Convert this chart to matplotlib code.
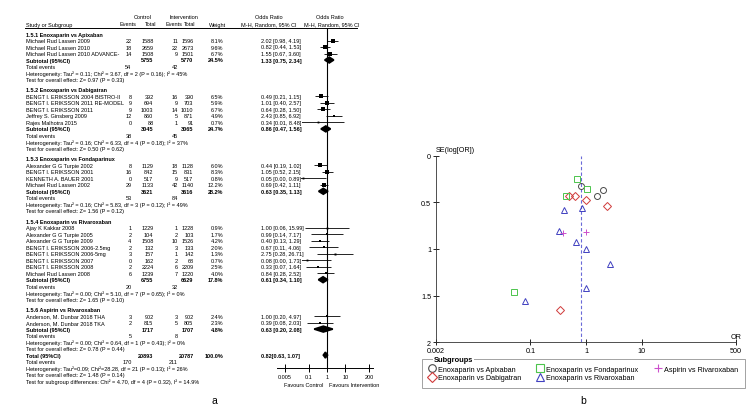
import matplotlib.pyplot as plt
from matplotlib.lines import Line2D

plt.rcParams['font.family'] = ['Liberation Sans', 'DejaVu Sans']

# ---- panel a: forest plot data ----
groups = ["1.5.1 Enoxaparin vs Apixaban", "1.5.2 Enoxaparin vs Dabigatran",
          "1.5.3 Enoxaparin vs Fondaparinux", "1.5.4 Enoxaparin vs Rivaroxaban",
          "1.5.6 Aspirin vs Rivaroxaban"]
group_of = [0, 0, 0, 1, 1, 1, 1, 1, 2, 2, 2, 2, 3, 3, 3, 3, 3, 3, 3, 3, 4, 4]
studies = ["Michael Rud Lassen 2009", "Michael Rud Lassen 2010", "Michael Rud Lassen 2010 ADVANCE-",
           "BENGT I. ERIKSSON 2004 BISTRO-II", "BENGT I. ERIKSSON 2011 RE-MODEL", "BENGT I. ERIKSSON 2011",
           "Jeffrey S. Ginsberg 2009", "Rajes Malhotra 2015",
           "Alexander G G Turpie 2002", "BENGT I. ERIKSSON 2001", "KENNETH A. BAUER 2001",
           "Michael Rud Lassen 2002",
           "Ajay K Kakkar 2008", "Alexander G G Turpie 2005", "Alexander G G Turpie 2009",
           "BENGT I. ERIKSSON 2006-2.5mg", "BENGT I. ERIKSSON 2006-5mg", "BENGT I. ERIKSSON 2007",
           "BENGT I. ERIKSSON 2008", "Michael Rud Lassen 2008",
           "Anderson, M. Dunbar 2018 THA", "Anderson, M. Dunbar 2018 TKA"]
ctrl_events = [22, 18, 14, 8, 9, 9, 12, 0, 8, 16, 0, 29, 1, 2, 4, 2, 3, 0, 2, 6, 3, 2]
ctrl_total = [1588, 2659, 1508, 392, 694, 1003, 860, 88, 1129, 842, 517, 1133,
              1229, 104, 1508, 132, 157, 162, 2224, 1239, 902, 815]
int_events = [11, 22, 9, 16, 9, 14, 5, 1, 18, 15, 9, 42, 1, 2, 10, 3, 1, 2, 6, 7, 3, 5]
int_total = [1596, 2673, 1501, 390, 703, 1010, 871, 91, 1128, 831, 517, 1140,
             1228, 103, 1526, 133, 142, 68, 2209, 1220, 902, 805]
weight = [8.1, 9.6, 6.7, 6.5, 5.9, 6.7, 4.9, 0.7, 6.0, 8.3, 0.8, 12.2,
          0.9, 1.7, 4.2, 2.0, 1.3, 0.7, 2.5, 4.0, 2.4, 2.3]
odds = [2.02, 0.82, 1.55, 0.49, 1.01, 0.64, 2.43, 0.34, 0.44, 1.05, 0.05, 0.69,
        1.00, 0.99, 0.40, 0.67, 2.75, 0.08, 0.33, 0.84, 1.00, 0.39]
ci_low = [0.98, 0.44, 0.67, 0.21, 0.40, 0.28, 0.85, 0.01, 0.19, 0.52, 0.00, 0.42,
          0.06, 0.14, 0.13, 0.11, 0.28, 0.00, 0.07, 0.28, 0.20, 0.08]
ci_high = [4.19, 1.53, 3.60, 1.15, 2.57, 1.50, 6.92, 8.48, 1.02, 2.15, 0.89, 1.11,
           15.99, 7.17, 1.29, 4.06, 26.71, 1.73, 1.64, 2.52, 4.97, 2.03]
# SE(log OR) (panel b)
se_log_or = [0.37, 0.32, 0.43, 0.43, 0.48, 0.43, 0.54, 1.65, 0.43, 0.36, 1.46, 0.25,
             1.42, 1.00, 0.58, 0.92, 1.16, 1.56, 0.81, 0.56, 0.82, 0.83]

sub_ctrl_total = [5755, 3045, 3621, 6755, 1717]
sub_int_total = [5770, 3065, 3616, 6629, 1707]
sub_weight = [24.5, 24.7, 28.2, 17.8, 4.8]
sub_or = [1.33, 0.86, 0.63, 0.61, 0.63]
sub_low = [0.75, 0.47, 0.35, 0.34, 0.20]
sub_high = [2.34, 1.56, 1.13, 1.10, 2.08]
sub_ctrl_events = [54, 38, 53, 20, 5]
sub_int_events = [42, 45, 84, 32, 8]
sub_het = ["Heterogeneity: Tau\u00b2 = 0.11; Chi\u00b2 = 3.67, df = 2 (P = 0.16); I\u00b2 = 45%",
           "Heterogeneity: Tau\u00b2 = 0.16; Chi\u00b2 = 6.33, df = 4 (P = 0.18); I\u00b2 = 37%",
           "Heterogeneity: Tau\u00b2 = 0.16; Chi\u00b2 = 5.83, df = 3 (P = 0.12); I\u00b2 = 49%",
           "Heterogeneity: Tau\u00b2 = 0.00; Chi\u00b2 = 5.10, df = 7 (P = 0.65); I\u00b2 = 0%",
           "Heterogeneity: Tau\u00b2 = 0.00; Chi\u00b2 = 0.64, df = 1 (P = 0.43); I\u00b2 = 0%"]
sub_test = ["Test for overall effect: Z= 0.97 (P = 0.33)", "Test for overall effect: Z= 0.50 (P = 0.62)",
            "Test for overall effect: Z= 1.56 (P = 0.12)", "Test for overall effect: Z= 1.65 (P = 0.10)",
            "Test for overall effect: Z= 0.78 (P = 0.44)"]

total_ctrl, total_int = 20893, 20787
total_or, total_low, total_high = 0.82, 0.63, 1.07
total_ctrl_events, total_int_events = 170, 211
total_het = "Heterogeneity: Tau\u00b2=0.09; Chi\u00b2=28.28, df = 21 (P = 0.13); I\u00b2 = 26%"
total_test = "Test for overall effect: Z= 1.48 (P = 0.14)"
subgroup_test = "Test for subgroup differences: Chi\u00b2 = 4.70, df = 4 (P = 0.32), I\u00b2 = 14.9%"
forest_ticks = [0.005, 0.1, 1, 10, 200]

# ---- panel b: funnel plot ----
legend_names = ["Enoxaparin vs Apixaban", "Enoxaparin vs Dabigatran", "Enoxaparin vs Fondaparinux",
                "Enoxaparin vs Rivaroxaban", "Aspirin vs Rivaroxaban"]
group_markers = ['o', 'D', 's', '^', '+']
group_colors = ['#4a4a4a', '#d03a3a', '#4cc44c', '#4040c0', '#cc50cc']
funnel_xticks = [0.002, 0.1, 1, 10, 500]
funnel_yticks = [0, 0.5, 1, 1.5, 2]

FS = 4.0
W, H = 750, 414
Y0, STEP = 35, 6.5  # pixel of first line, pixels per line


def px_to_u(y):
    return (y - Y0) / STEP


def layout_rows():
    heading_u, study_u, sub_u = [], [0] * len(studies), []
    u = 0.0
    for g in range(len(groups)):
        if g > 0:
            u += 0.6
        heading_u.append(u)
        u += 1
        for i in range(len(studies)):
            if group_of[i] == g:
                study_u[i] = u
                u += 1
        sub_u.append(u)
        u += 4
    return heading_u, study_u, sub_u, u


heading_u, study_u, sub_u, total_u = layout_rows()

fig = plt.figure(figsize=(7.5, 4.14), dpi=100)

# table text layer in pixel x / line-unit y (kept above the forest graph)
axt = fig.add_axes([0, 0, 1, 1])
axt.set_xlim(0, W)
axt.set_ylim(px_to_u(H), px_to_u(0))
axt.set_facecolor('none')
axt.axis('off')
axt.set_zorder(2)

c_name, c_ce, c_ct, c_ie, c_it, c_w, c_or = 26, 131.5, 153.5, 178, 193.5, 223.5, 261


def row_text(u, vals, bold=False, mask=False):
    fw = 'bold' if bold else 'normal'
    for x, s, ha in zip([c_ce, c_ct, c_ie, c_it, c_w, c_or], vals, ['right'] * 5 + ['left']):
        if s == "":
            continue
        t = axt.text(x, u, s, ha=ha, va='center', fontsize=FS, fontweight=fw)
        if mask and ha == 'left':
            t.set_bbox(dict(facecolor='white', edgecolor='none', pad=0.4))


h1, h2 = px_to_u(17.5), px_to_u(25)
axt.text(143, h1, "Control", ha='center', va='center', fontsize=FS)
axt.text(184, h1, "Intervention", ha='center', va='center', fontsize=FS)
axt.text(269, h1, "Odds Ratio", ha='center', va='center', fontsize=FS)
axt.text(330, h1, "Odds Ratio", ha='center', va='center', fontsize=FS)
axt.text(c_name, h2, "Study or Subgroup", ha='left', va='center', fontsize=FS)
for x, s in [(127.5, "Events"), (151, "Total"), (173.5, "Events"), (190, "Total"), (217.5, "Weight"),
             (269, "M-H, Random, 95% CI"), (332, "M-H, Random, 95% CI")]:
    axt.text(x, h2, s, ha='center', va='center', fontsize=FS)
axt.plot([25, 357], [px_to_u(29), px_to_u(29)], color='black', lw=0.7)

for g in range(len(groups)):
    axt.text(c_name, heading_u[g], groups[g], ha='left', va='center', fontsize=FS, fontweight='bold')
    u = sub_u[g]
    axt.text(c_name, u, "Subtotal (95%CI)", ha='left', va='center', fontsize=FS, fontweight='bold')
    row_text(u, ["", str(sub_ctrl_total[g]), "", str(sub_int_total[g]), f"{sub_weight[g]:.1f}%",
                 f"{sub_or[g]:.2f} [{sub_low[g]:.2f}, {sub_high[g]:.2f}]"], bold=True)
    axt.text(c_name, u + 1, "Total events", ha='left', va='center', fontsize=FS)
    row_text(u + 1, [str(sub_ctrl_events[g]), "", str(sub_int_events[g]), "", "", ""])
    axt.text(c_name, u + 2, sub_het[g], ha='left', va='center', fontsize=FS)
    axt.text(c_name, u + 3, sub_test[g], ha='left', va='center', fontsize=FS)

for i in range(len(studies)):
    axt.text(c_name, study_u[i], studies[i], ha='left', va='center', fontsize=FS)
    row_text(study_u[i], [str(ctrl_events[i]), str(ctrl_total[i]), str(int_events[i]), str(int_total[i]),
                          f"{weight[i]:.1f}%", f"{odds[i]:.2f} [{ci_low[i]:.2f}, {ci_high[i]:.2f}]"],
             mask=True)

axt.text(c_name, total_u, "Total (95%CI)", ha='left', va='center', fontsize=FS, fontweight='bold')
row_text(total_u, ["", str(total_ctrl), "", str(total_int), "100.0%",
                   f"{total_or:.2f}[{total_low:.2f}, {total_high:.2f}]"], bold=True)
axt.text(c_name, total_u + 1, "Total events", ha='left', va='center', fontsize=FS)
row_text(total_u + 1, [str(total_ctrl_events), "", str(total_int_events), "", "", ""])
axt.text(c_name, total_u + 2, total_het, ha='left', va='center', fontsize=FS)
axt.text(c_name, total_u + 3, total_test, ha='left', va='center', fontsize=FS)
axt.text(c_name, total_u + 4, subgroup_test, ha='left', va='center', fontsize=FS)
axt.text(323, px_to_u(386), "Favours Control", ha='right', va='center', fontsize=FS)
axt.text(329, px_to_u(386), "Favours Intervention", ha='left', va='center', fontsize=FS)

# forest graph
f_left, f_right, f_top, f_bot = 277, 373, 29, 369
axf = fig.add_axes([f_left / W, 1 - f_bot / H, (f_right - f_left) / W, (f_bot - f_top) / H])
axf.set_facecolor('none')
axf.set_xscale('log')
axf.set_xlim(0.00186, 326)
axf.set_ylim(px_to_u(f_bot), px_to_u(f_top))
for s in ['left', 'right', 'top']:
    axf.spines[s].set_visible(False)
axf.spines['bottom'].set_linewidth(0.7)
axf.set_yticks([])
axf.set_xticks(forest_ticks)
axf.set_xticklabels([str(t) for t in forest_ticks])
axf.minorticks_off()
axf.tick_params(axis='x', direction='inout', length=6, width=0.7, labelsize=FS, pad=1)
axf.axvline(1, color='black', lw=0.8)
axf.hlines(study_u, ci_low, ci_high, color='black', lw=0.6)
for i in range(len(studies)):
    axf.plot(odds[i], study_u[i], marker='s', color='black', ms=1.2 + 0.17 * weight[i], mew=0)
for lo, mid, hi, u in zip(sub_low + [total_low], sub_or + [total_or], sub_high + [total_high],
                          sub_u + [total_u]):
    axf.fill([lo, mid, hi, mid], [u, u - 0.45, u, u + 0.45], color='black', lw=1.2, edgecolor='black')

# funnel plot
b_left, b_right, b_top, b_bot = 436, 736, 156.7, 343.3
axb = fig.add_axes([b_left / W, 1 - b_bot / H, (b_right - b_left) / W, (b_bot - b_top) / H])
axb.set_xscale('log')
axb.set_xlim(0.002, 500)
axb.set_ylim(2, 0)
for s in ['right', 'top']:
    axb.spines[s].set_visible(False)
for s in ['left', 'bottom']:
    axb.spines[s].set_linewidth(0.6)
    axb.spines[s].set_color('#333333')
axb.set_xticks(funnel_xticks)
axb.set_xticklabels([str(t) for t in funnel_xticks])
axb.minorticks_off()
axb.set_yticks(funnel_yticks)
axb.set_yticklabels([f"{t:g}" for t in funnel_yticks])
axb.tick_params(direction='inout', length=5, width=0.6, labelsize=5.2, pad=1)
axb.axvline(total_or, color='#6a6ad8', lw=0.8, ls=(0, (3, 2)))
for g in range(len(groups)):
    xs = [odds[i] for i in range(len(studies)) if group_of[i] == g]
    ys = [se_log_or[i] for i in range(len(studies)) if group_of[i] == g]
    axb.plot(xs, ys, ls='none', marker=group_markers[g], ms=4.3 if g != 1 else 3.8,
             mfc='none', mec=group_colors[g], mew=0.7, clip_on=False)
axb.text(0.0, 1.015, "SE(log[OR])", transform=axb.transAxes, ha='left', va='bottom', fontsize=5.2)
axb.text(1.0, 0.015, "OR", transform=axb.transAxes, ha='center', va='bottom', fontsize=5.2)

handles = [Line2D([], [], ls='none', marker=group_markers[g], ms=5.5, mfc='none',
                  mec=group_colors[g], mew=0.8) for g in range(len(groups))]
leg = axb.legend(handles, legend_names, ncol=3, loc='upper left', mode='expand',
                 bbox_to_anchor=(421.7 / W, 1 - 386.7 / H, 323 / W, 26.7 / H),
                 bbox_transform=fig.transFigure, fontsize=5.2, frameon=True, fancybox=False,
                 borderaxespad=0, handlelength=0.9, handletextpad=0.4, labelspacing=0.2,
                 borderpad=0.95, columnspacing=0.5)
leg.get_frame().set_edgecolor('#777777')
leg.get_frame().set_linewidth(0.6)
fig.text(434 / W, 1 - 361 / H, "Subgroups", fontsize=5.4, fontweight='bold', ha='left', va='center',
         bbox=dict(facecolor='white', edgecolor='none', pad=0.6))

fig.text(214 / W, 1 - 401 / H, "a", fontsize=7.5, ha='center', va='center')
fig.text(583 / W, 1 - 401 / H, "b", fontsize=7.5, ha='center', va='center')

fig.savefig('out.png', dpi=100, facecolor='white')
